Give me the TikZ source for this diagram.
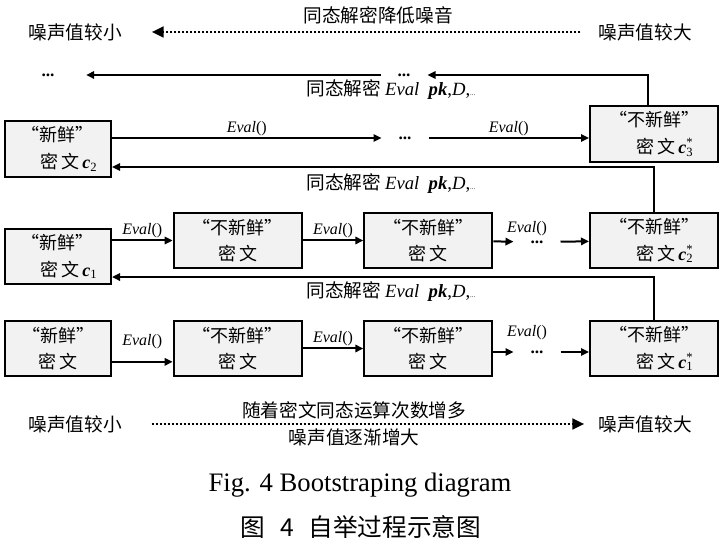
\documentclass[tikz,border=0pt]{standalone}
\usepackage{fontspec}
\setmainfont{Liberation Serif}
\newfontfamily\cjk{Noto Sans CJK SC}
\usepackage{tikz}
\usetikzlibrary{arrows.meta, positioning}
\colorlet{colorBox}{black!5}
\tikzset{
  cbox/.style={draw, line width=1.5pt, fill=colorBox, align=center, minimum width=96pt, minimum height=41.5pt, inner sep=1pt, font=\cjk\fontsize{13.5}{20}\selectfont},
  fbox/.style={cbox, minimum width=79.5pt},
  cn/.style={font=\cjk\fontsize{14}{16}\selectfont, inner sep=1pt},
  evl/.style={font=\fontsize{12}{14}\selectfont, inner sep=1pt},
  dotnode/.style={font=\bfseries\fontsize{13}{14}\selectfont, inner xsep=12pt, inner ysep=1pt},
  noise/.style={line width=2pt, dash pattern=on 1.6pt off 1.4pt, -{Triangle[length=9pt,width=8pt]}}
}
\newcommand{\cvar}[2]{{\rmfamily\bfseries\itshape c}\rlap{\textsuperscript{\rmfamily #2}}\textsubscript{\rmfamily #1}}
\newcommand{\evalcall}{\textit{Eval}()}
\newcommand{\evaldec}{{\rmfamily\textit{Eval}\enspace\textbf{\textit{pk}},\textit{D},{\tiny...}}}

\begin{document}
\begin{tikzpicture}[x=0.75pt, y=-0.75pt, >={Triangle[length=6pt,width=5.5pt]}, line width=1.5pt]
\useasboundingbox (0,0) rectangle (721,548);

% noise goes down
\node[cn] (nl1) at (75,32) {噪声值较小};
\node[cn] (nh1) at (645,32) {噪声值较大};
\node[cn] (t1) at (378,15) {同态解密降低噪音};
\draw[noise, shorten <=11.8pt, shorten >=20.8pt] (nh1) -- (nl1);

% boxes
\node[fbox] (b1a) at (58,348.5) {“新鲜”\\密\,文};
\node[cbox, right=45.5pt of b1a] (b1b) {“不新鲜”\\密\,文};
\node[cbox, right=45.5pt of b1b] (b1c) {“不新鲜”\\密\,文};
\node[cbox] (b1d) at (654,348.5) {“不新鲜”\\\hspace*{1.2em}密\,文\,\cvar{1}{*}};
\node[fbox] (b2a) at (58,256.5) {“新鲜”\\\hspace*{1.2em}密\,文\,\cvar{1}{}};
\node[cbox, above=38pt of b1b] (b2b) {“不新鲜”\\密\,文};
\node[cbox, above=38pt of b1c] (b2c) {“不新鲜”\\密\,文};
\node[cbox, above=38pt of b1d] (b2d) {“不新鲜”\\\hspace*{1.2em}密\,文\,\cvar{2}{*}};
\node[fbox] (b3a) at (58,149) {“新鲜”\\\hspace*{1.2em}密\,文\,\cvar{2}{}};
\node[cbox] (b3d) at (654,134) {“不新鲜”\\\hspace*{1.2em}密\,文\,\cvar{3}{*}};

% dots
\node[dotnode] (d1) at (537,352) {...};
\node[dotnode] (d2) at (537,242) {...};
\node[dotnode] (d3) at (405,138) {...};
\node[dotnode] (d4) at (404,75) {...};
\node[dotnode, inner xsep=23pt] (d5) at (48,75) {...};

% row 1
\draw[->] ([yshift=-10pt]b1a.east) -- node[evl, above=8pt] (e1a) {\evalcall} ([yshift=-10pt]b1b.west);
\draw[->] (b1b) -- node[evl, above] (e1b) {\evalcall} (b1c);
\draw[->] (b1c.east |- d1) -- (d1);
\node[evl] (e1c) at (527,333) {\evalcall};
\draw[->] (d1) -- (b1d.west |- d1);

% row 2
\draw[->] (b2a.east |- b2b) -- node[evl, above] (e2a) {\evalcall} (b2b.west);
\draw[->] (b2b) -- node[evl, above] (e2b) {\evalcall} (b2c);
\draw[->] (b2c) -- (d2);
\node[evl] (e2c) at (527,229) {\evalcall};
\draw[->] (d2) -- (b2d);

% row 3
\draw[->] (b3a.east |- d3) -- node[evl, above] (e3a) {\evalcall} (d3.west);
\draw[->] (d3.east) -- node[evl, above] (e3b) {\evalcall} (b3d.west |- d3);

% decryption back
\draw[->] (b1d.north) |- ([yshift=-15.4pt]b2a.east);
\node[cn, anchor=west] (h1) at (304,292) {同态解密\ \evaldec};
\draw[->] (b2d.north) |- ([yshift=-13.5pt]b3a.east);
\node[cn, anchor=west] (h2) at (304,184) {同态解密\ \evaldec};
\draw[->] ([xshift=-4.5pt]b3d.north) |- (d4.east);
\draw[->] (d4.west) -- (d5.east);
\node[cn, anchor=west] (h3) at (304,90) {同态解密\ \evaldec};

% noise goes up
\node[cn] (nl2) at (75,424) {噪声值较小};
\node[cn] (nh2) at (645,424) {噪声值较大};
\node[cn] (t2) at (354,410) {随着密文同态运算次数增多};
\node[cn] (t3) at (354,437) {噪声值逐渐增大};
\draw[noise, shorten <=20.8pt, shorten >=8.8pt] (nl2) -- (nh2);

% caption
\node[font=\fontsize{20}{24}\selectfont] (cap1) at (360,485) {Fig. 4 Bootstraping diagram};
\node[font=\cjk\fontsize{18.5}{22}\selectfont] (cap2) at (361,527) {图\hspace{0.6em}4\hspace{0.6em}自举过程示意图};
\end{tikzpicture}
\end{document}
